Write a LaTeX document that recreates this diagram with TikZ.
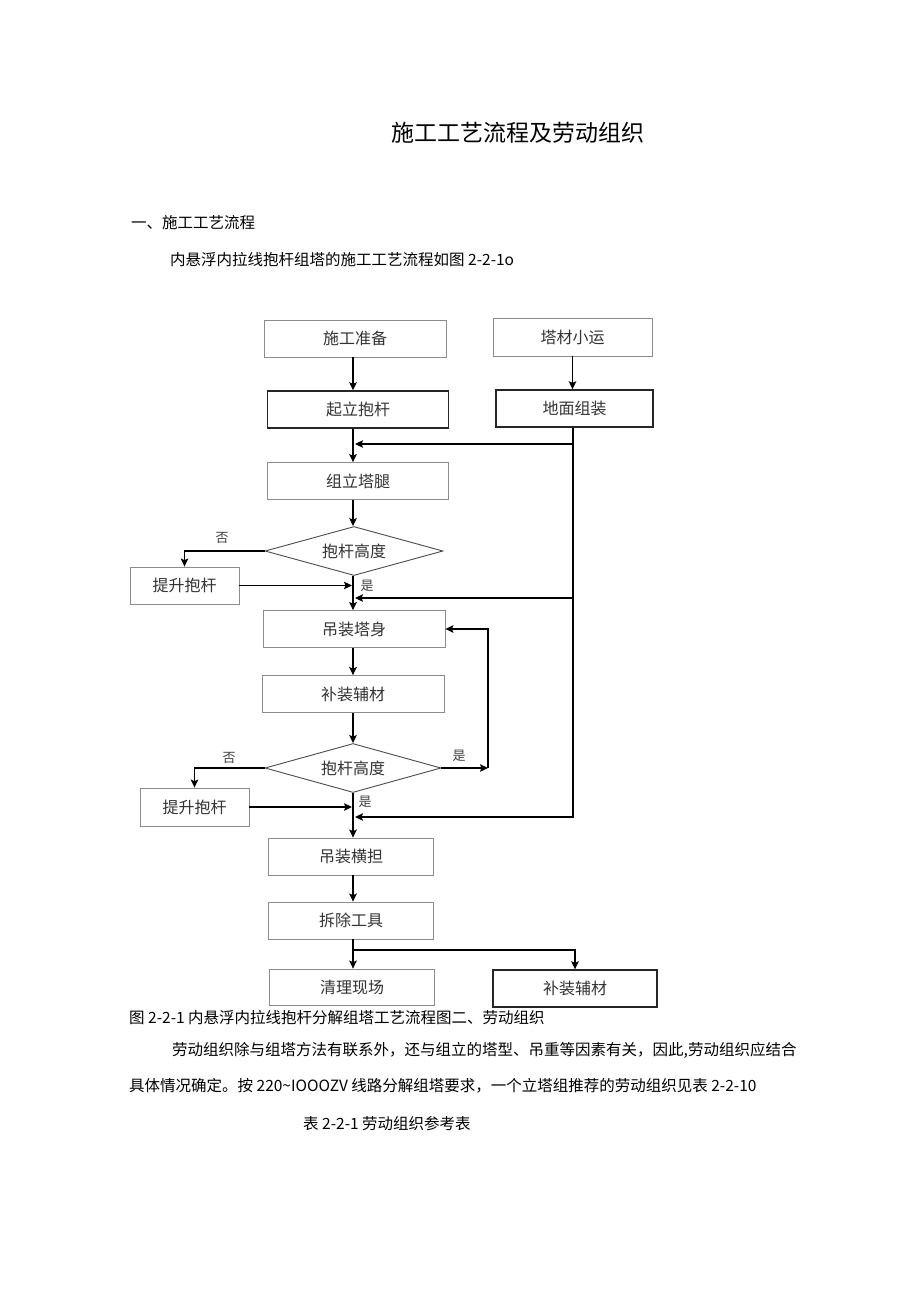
\documentclass[tikz,border=0pt]{standalone}
\usepackage{fontspec}
\setmainfont{Noto Sans CJK SC}
\usepackage{tikz}
\usetikzlibrary{arrows.meta,shapes.geometric}

\tikzset{
  caja/.style={draw=black!45, line width=0.8pt, inner sep=0pt, minimum height=37pt,
    text=black!80, font=\fontsize{16}{16}\selectfont},
  cajagruesa/.style={caja, draw=black!85, line width=1.4pt},
  rombo/.style={diamond, shape aspect=3.7, draw=black!70, line width=0.9pt, inner sep=0pt,
    minimum width=178pt, minimum height=49pt, text=black!80, font=\fontsize{16}{16}\selectfont},
  flecha/.style={line width=1.3pt, -{Stealth[length=8pt,width=7.5pt,inset=1.5pt]}},
  etiqueta/.style={inner sep=0pt, text=black!75, font=\fontsize{13}{13}\selectfont},
  texto/.style={anchor=west, inner sep=0pt, font=\fontsize{15.5}{15.5}\selectfont}
}

\begin{document}
\begin{tikzpicture}[x=1pt,y=-1pt]
            % Fondo de la pagina
            \fill[white] (0,0) rectangle (920,1301);
            \useasboundingbox (0,0) rectangle (920,1301);

            % Textos de la pagina
            \node[texto, font=\fontsize{23}{23}\selectfont] (titulo) at (391,133) {施工工艺流程及劳动组织};
            \node[texto] (seccion1) at (131,223) {一、施工工艺流程};
            \node[texto] (intro) at (170,260) {内悬浮内拉线抱杆组塔的施工工艺流程如图 2-2-1o};

            % Columna principal
            \node[caja, minimum width=182pt] (zhunbei) at (355,338.5) {施工准备};
            \node[cajagruesa, minimum width=181pt] (qili) at (358,409.5) {起立抱杆};
            \node[caja, minimum width=181pt] (tatui) at (358,481) {组立塔腿};
            \node[rombo] (alto1) at (354,551) {抱杆高度};
            \node[caja, minimum width=182pt] (tashen) at (354,629) {吊装塔身};
            \node[caja, minimum width=182pt] (fucai) at (353,694) {补装辅材};
            \node[rombo, minimum width=176pt] (alto2) at (353,768) {抱杆高度};
            \node[caja, minimum width=165pt] (hengdan) at (351,856.5) {吊装横担};
            \node[caja, minimum width=165pt] (chaichu) at (351,920.5) {拆除工具};
            \node[caja, minimum width=165pt, minimum height=36pt] (qingli) at (352,987) {清理现场};

            % Columna derecha
            \node[caja, minimum width=159pt, minimum height=38pt] (xiaoyun) at (572.5,337) {塔材小运};
            \node[cajagruesa, minimum width=157pt] (zuzhuang) at (574.5,408.5) {地面组装};
            \node[cajagruesa, minimum width=164pt] (fucaider) at (575,988.5) {补装辅材};

            % Cajas de la izquierda
            \node[caja, minimum width=109pt] (tisheng1) at (184.5,585.5) {提升抱杆};
            \node[caja, minimum width=109pt, minimum height=38pt] (tisheng2) at (194.5,807) {提升抱杆};

            % Puntos de union
            \coordinate (der1) at (573,444);
            \coordinate (der2) at (573,598);
            \coordinate (eje1) at (355,444);
            \coordinate (eje2) at (355,598);
            \coordinate (eje3) at (355,817);
            \coordinate (izq1) at (352,585.5);
            \coordinate (izq2) at (352,807);
            \coordinate (lazo) at (488,768);
            \coordinate (rama) at (353,950);

            % Flechas de la columna principal
            \draw[flecha] (zhunbei.south -| 353,0) -- (qili.north -| 353,0);
            \draw[flecha] (qili.south -| 353,0) -- (tatui.north -| 353,0);
            \draw[flecha] (tatui.south -| 353,0) -- (alto1.north -| 353,0);
            \draw[flecha] (alto1.south -| 353,0) -- (tashen.north -| 353,0);
            \draw[flecha] (tashen.south -| 353,0) -- (fucai.north -| 353,0);
            \draw[flecha] (fucai) -- (alto2);
            \draw[flecha] (alto2.south) -- (hengdan.north -| 353,0);
            \draw[flecha] (hengdan.south -| 353,0) -- (chaichu.north -| 353,0);
            \draw[flecha] (chaichu.south -| 353,0) -- (qingli.north -| 353,0);
            \draw[flecha] (rama) -| (fucaider.north);

            % Flechas de la columna derecha
            \draw[flecha] (xiaoyun) -- (zuzhuang.north -| xiaoyun);
            \draw[flecha] (zuzhuang.south -| der1) |- (eje3);
            \draw[flecha] (der1) -- (eje1);
            \draw[flecha] (der2) -- (eje2);

            % Primer control de altura
            \draw[flecha] (alto1.west) -| (tisheng1.north);
            \draw[flecha] (tisheng1.east) -- (izq1);
            \node[etiqueta] (no1) at (222,538) {否};
            \node[etiqueta] (si1) at (367,586) {是};

            % Segundo control de altura
            \draw[flecha] (alto2.west) -| (tisheng2.north);
            \draw[flecha] (tisheng2.east) -- (izq2);
            \draw[flecha] (alto2.east) -- (lazo);
            \draw[flecha] (lazo) |- (tashen.east);
            \node[etiqueta] (no2) at (229,758) {否};
            \node[etiqueta] (si2) at (459,756) {是};
            \node[etiqueta] (si3) at (365,802) {是};

            % Pie de figura y texto final
            \node[texto] (pie) at (129,1018) {图 2-2-1 内悬浮内拉线抱杆分解组塔工艺流程图二、劳动组织};
            \node[texto] (parrafo1) at (172,1050) {劳动组织除与组塔方法有联系外，还与组立的塔型、吊重等因素有关，因此,劳动组织应结合};
            \node[texto] (parrafo2) at (129,1086) {具体情况确定。按 220\textasciitilde IOOOZV 线路分解组塔要求，一个立塔组推荐的劳动组织见表 2-2-10};
            \node[texto] (tabla) at (303,1124) {表 2-2-1 劳动组织参考表};
\end{tikzpicture}
\end{document}
